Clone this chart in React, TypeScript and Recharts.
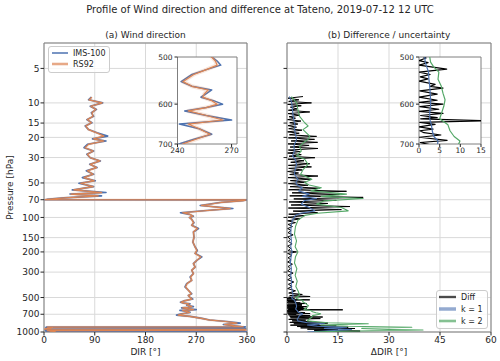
import React from 'react';
import { ScatterChart, Scatter, XAxis, YAxis, CartesianGrid, ReferenceArea } from 'recharts';

const FONT = '"DejaVu Sans", Verdana, sans-serif';
const INK = '#262626';
const SPINE = '#7f7f7f';
const GRID = '#d9d9d9';
const BLUE = '#4c72b0';
const ORANGE = '#dd8452';
const GREEN = '#55a868';
const BLACK = '#000000';

// (a) wind direction, shared pressure levels [hPa]
const dirP = [
  8.9, 9.4, 10.0, 10.7, 11.4, 12.2, 13.1, 14.0, 14.9, 15.9, 17.1, 18.2, 19.5, 20.6,
  21.5, 23.0, 24.6, 26.3, 28.1, 30.1, 32.1, 34.4, 36.7, 39.2, 42.0, 44.9, 47.9, 50.3,
  53.8, 57.5, 60.6, 62.5, 64.8, 67.5, 69.6, 70.0, 70.3, 71.5, 74, 78.6, 83.6, 87, 91, 94,
  97.4, 100, 104, 111, 117, 125, 134, 149, 164, 181, 194, 206, 221, 237, 253, 271, 289,
  309, 331, 354, 378, 404, 432, 463, 480,
  500, 508, 516, 525, 535, 550, 560, 568, 576, 584, 592, 600, 608, 616, 627, 638, 648,
  660, 674, 686, 698,
  712, 730, 760, 785, 810, 837, 860, 885,
  895, 900, 905, 912, 920, 928, 935, 942, 950, 958, 965, 972, 980, 988, 995, 1000,
];
const imsDir = [
  84, 79, 104, 82, 93, 84, 88, 76, 85, 73, 79, 94, 113, 86,
  110, 77, 71, 88, 76, 82, 100, 81, 94, 75, 88, 68, 91, 62,
  88, 50, 110, 46, 102, 35, 5, 1, 359, 352, 312, 277, 335, 288, 242, 258,
  265, 258, 262, 266, 262, 274, 265, 266, 264, 268, 272, 268, 280, 271, 265, 268, 262,
  265, 259, 262, 253, 250, 256, 262, 256,
  259, 262, 264, 256, 248, 242, 248, 259, 256, 253, 260, 265, 256, 244, 256, 270, 241,
  252, 259, 250, 242,
  235, 259, 280, 294, 324, 348, 318, 340,
  350, 357, 4, 9, 3, 357, 352, 358, 5, 2, 356, 353, 3, 8, 359, 300,
];
const rs92Dir = [
  85, 80, 103, 83, 92, 85, 87, 77, 84, 74, 79, 93, 106, 88,
  106, 79, 73, 87, 77, 82, 99, 82, 93, 77, 87, 71, 89, 65,
  87, 53, 102, 48, 96, 38, 7, 2, 358, 353, 314, 279, 330, 290, 246, 259,
  264, 258, 262, 265, 262, 272, 265, 266, 264, 268, 271, 268, 278, 271, 265, 268, 262,
  265, 260, 262, 254, 251, 256, 261, 256,
  259, 261, 262, 256, 249, 243, 248, 257, 255, 254, 259, 262, 256, 246, 256, 265, 246,
  252, 258, 251, 244,
  238, 258, 279, 292, 322, 342, 320, 338,
  348, 353, 6, 15, 8, 12, 4, 1, 357, 353, 358, 6, 18, 12, 20, 10,
];

// (b) absolute difference IMS-100 minus RS92 [deg]
const diffP = [
  8.8, 9.1, 9.4, 9.7, 10.0, 10.3, 10.6, 10.9, 11.3, 11.6,
  12.0, 12.4, 12.8, 13.2, 13.6, 14.0, 14.4, 14.9, 15.3, 15.8,
  16.3, 16.8, 17.3, 17.9, 18.4, 19.0, 19.6, 20.2, 20.8, 21.5,
  22.1, 22.8, 23.5, 24.3, 25.0, 25.8, 26.6, 27.4, 28.3, 29.2,
  30.1, 31.0, 32.0, 33.0, 34.0, 35.1, 36.2, 37.3, 38.5, 39.7,
  40.9, 42.2, 43.5, 44.9, 46.3, 47.7, 49.2, 50.7, 52.3, 53.9,
  55.6, 57.3, 59.1, 61.0, 62.9, 64.8, 66.8, 68.9, 71.0, 73.2,
  75.5, 77.9, 80.3, 82.8, 85.4, 88.0, 90.8, 93.6, 96.5, 99.5,
  103, 107, 111, 115, 120, 125, 130, 136, 142, 148,
  155, 162, 170, 178, 186, 195, 200, 206, 215, 225,
  235, 245, 256, 268, 280, 293, 306, 320, 335, 350,
  366, 383, 400, 418, 437, 457, 470, 480, 490, 497,
  502, 507, 511, 516, 524, 530, 535, 540, 544, 549,
  556, 560, 564, 570, 577, 584, 591, 596, 600, 606,
  612, 617, 622, 627, 632, 635, 640, 644, 649, 655,
  661, 665, 670, 676, 682, 690, 696, 702,
  710, 720, 730, 740, 752, 764, 776, 788, 800, 812,
  824, 836, 848, 860, 872, 884, 896, 908, 920, 932,
  944, 956, 968, 980, 990, 1000,
];
const diffVals = [
  4.7, 0.3, 3.5, 0.5, 7.2, 0.2, 4.2, 1.0, 3.0, 0.4,
  6.7, 0.3, 3.8, 0.6, 2.5, 0.2, 4.1, 0.8, 3.2, 0.3,
  2.8, 0.5, 4.4, 0.2, 3.6, 0.7, 8.7, 0.4, 8.1, 1.2,
  9.0, 0.3, 6.5, 0.9, 9.1, 0.4, 3.8, 0.2, 4.2, 0.6,
  8.2, 0.3, 5.0, 1.1, 6.7, 0.4, 7.2, 0.5, 4.5, 0.2,
  3.4, 0.8, 9.1, 0.3, 7.0, 1.0, 5.6, 0.4, 6.2, 0.9,
  9.6, 0.5, 17.5, 1.5, 15.5, 0.8, 22.4, 2.0, 14.5, 0.6,
  12.0, 1.2, 18.5, 0.4, 16.0, 1.8, 9.0, 0.5, 5.2, 0.3,
  3.8, 0.2, 2.5, 0.3, 1.6, 0.2, 1.2, 0.3, 1.8, 0.2,
  1.0, 0.4, 1.5, 0.2, 1.1, 0.3, 2.8, 0.2, 1.4, 0.3,
  1.2, 0.2, 1.6, 0.3, 1.0, 0.2, 1.8, 0.3, 1.3, 0.2,
  2.0, 0.4, 1.5, 0.2, 2.5, 0.5, 4.5, 0.8, 6.8, 0.5,
  1.7, 0, 2.2, 0, 6.7, 0, 2.7, 0.3, 2.2, 0,
  3.9, 2.7, 5.8, 0.2, 4.4, 0, 4.4, 0.1, 5.8, 0.2,
  4.8, 0, 5.8, 0.4, 4.4, 0.4, 16.4, 0.2, 3.9, 0,
  3.4, 0.2, 1.2, 5.3, 0.1, 6.8, 0.3, 2.7,
  0.5, 6.8, 0.8, 10.5, 1.0, 9.8, 0.5, 5.5, 1.5, 7.5,
  0.8, 12.0, 2.0, 9.5, 1.0, 14.5, 3.0, 18.0, 4.0, 20.0,
  6.0, 15.0, 8.0, 21.5, 9.0, 12.0,
];

// (b) combined uncertainty, k = 1 and k = 2 [deg]
const uncP = [
  8.8, 10, 11.4, 13.1, 14.9, 15.9, 17.1, 19.5, 20.8, 22.3,
  24, 26.3, 29, 31, 34.4, 38, 42, 46.5, 49.6, 52,
  55, 58.6, 62.6, 65.5, 68.4, 71.6, 76.5, 81.9, 87.6, 92,
  96, 106, 120, 140, 160, 180, 200, 220, 250, 280,
  320, 360, 400, 440, 480, 500, 510, 520, 530, 545,
  560, 575, 590, 605, 620, 635, 650, 665, 680, 692,
  700, 720, 744, 770, 800, 830, 848, 870, 890, 908,
  930, 950, 962, 975, 990, 1000,
];
const k1Vals = [
  0.7, 1.4, 1.6, 1.8, 2.2, 2.4, 2.2, 2.6, 2.8, 2.4,
  2.0, 2.2, 1.6, 2.4, 2.8, 2.4, 2.2, 3.2, 2.6, 3.0,
  4.5, 3.4, 6.5, 4.5, 8.7, 5.0, 4.2, 6.5, 8.2, 4.0,
  2.5, 1.6, 1.2, 1.1, 1.3, 1.1, 1.5, 1.2, 1.0, 1.3,
  1.1, 1.4, 1.2, 1.6, 1.8, 1.4, 1.5, 1.9, 2.3, 2.4,
  2.6, 2.7, 2.8, 2.8, 2.6, 2.6, 3.0, 3.2, 3.6, 4.6,
  4.5, 3.6, 3.4, 3.0, 3.2, 6, 11, 6, 9, 17.5,
  11, 19, 17.5, 12, 8.7, 6,
];
const k2Vals = [
  1.3, 2.8, 3.2, 3.7, 5.2, 6.2, 4.7, 6.7, 6.2, 4.8,
  3.7, 4.2, 2.8, 5.2, 6.2, 4.8, 4.0, 7.3, 5.2, 6.5,
  10.1, 7.0, 17.5, 10, 22.4, 11, 8.7, 16, 18, 9,
  5.2, 3.2, 2.5, 2.2, 2.8, 2.4, 3.2, 2.5, 2.2, 2.9,
  2.4, 3.0, 2.6, 3.3, 3.7, 2.6, 2.8, 3.6, 4.8, 4.6,
  5.4, 5.8, 6.3, 6.0, 5.5, 5.0, 7.0, 7.5, 8.5, 9.9,
  9.6, 7.5, 7.3, 6.5, 6.0, 12, 23.9, 10, 18, 36.7,
  22, 30, 40, 25, 12, 8,
];

const pTicks = [5, 10, 15, 20, 30, 50, 70, 100, 150, 200, 300, 500, 700, 1000];
const dirTicks = [0, 90, 180, 270, 360];
const dDirTicks = [0, 15, 30, 45, 60];
const insetPTicks = [500, 600, 700];
const insetDirTicks = [240, 270];
const insetDDirTicks = [0, 5, 10, 15];

const legendA = ['IMS-100', 'RS92'];
const legendB = ['Diff', 'k = 1', 'k = 2'];

type Row = { p: number; v: number };
const rows = (p: number[], v: number[]): Row[] => p.map((pp, i) => ({ p: pp, v: v[i] }));

// keep the points inside [lo, hi] plus one neighbour on each side
const around = (data: Row[], lo: number, hi: number) => {
  let first = data.findIndex((d) => d.p >= lo);
  first = Math.max(0, first - 1);
  let last = data.length - 1;
  for (let i = 0; i < data.length; i++) {
    if (data[i].p > hi) {
      last = i;
      break;
    }
  }
  return data.slice(first, last + 1);
};

const noDot = () => <g />;

const trace = (data: Row[], color: string, width: number, opacity = 1) => (
  <Scatter
    data={data}
    fill={color}
    line={{ stroke: color, strokeWidth: width, strokeOpacity: opacity, strokeLinejoin: 'round' }}
    lineType="joint"
    shape={noDot}
    legendType="none"
    isAnimationActive={false}
  />
);

const tick9 = { fontSize: 9, fill: INK, fontFamily: FONT };
const tick7 = { fontSize: 7.5, fill: INK, fontFamily: FONT };

export default function App() {
  const ims = rows(dirP, imsDir);
  const rs = rows(dirP, rs92Dir);
  const diff = rows(diffP, diffVals);
  const k1 = rows(uncP, k1Vals);
  const k2 = rows(uncP, k2Vals);

  const xMain = {
    type: 'number' as const,
    dataKey: 'v',
    interval: 0 as const,
    allowDataOverflow: true,
    tick: tick9,
    tickSize: 3.5,
    tickMargin: 1,
    axisLine: false,
    tickLine: { stroke: INK },
    height: 20,
  };
  const yMain = {
    type: 'number' as const,
    dataKey: 'p',
    scale: 'log' as const,
    domain: [3, 1000],
    reversed: true,
    ticks: pTicks,
    interval: 0 as const,
    allowDataOverflow: true,
    tickSize: 3.5,
    axisLine: false,
    tickLine: { stroke: INK },
  };
  const xInset = {
    type: 'number' as const,
    dataKey: 'v',
    interval: 0 as const,
    allowDataOverflow: true,
    tick: tick7,
    tickSize: 3,
    tickMargin: 1,
    axisLine: false,
    tickLine: { stroke: INK },
    height: 12,
  };
  const yInset = {
    type: 'number' as const,
    dataKey: 'p',
    scale: 'log' as const,
    domain: [500, 700],
    reversed: true,
    ticks: insetPTicks,
    interval: 0 as const,
    allowDataOverflow: true,
    tick: tick7,
    tickSize: 3,
    tickMargin: 2,
    axisLine: false,
    tickLine: { stroke: INK },
    width: 30,
  };

  return (
    <div
      style={{
        position: 'absolute',
        left: 0,
        top: 0,
        width: 500,
        height: 361,
        background: '#fff',
        overflow: 'hidden',
        fontFamily: FONT,
      }}
    >
      {/* (a) wind direction */}
      <div style={{ position: 'absolute', left: 0, top: 0 }}>
        <ScatterChart width={260} height={361} margin={{ top: 43, right: 13, bottom: 9, left: 4 }}>
          <CartesianGrid stroke={GRID} />
          <XAxis {...xMain} domain={[0, 360]} ticks={dirTicks} />
          <YAxis {...yMain} width={40} tick={tick9} tickMargin={1} />
          {trace(ims, BLUE, 1.6)}
          {trace(rs, ORANGE, 2.6, 0.2)}
          {trace(rs, ORANGE, 1.2)}
          <ReferenceArea x1={0} x2={360} y1={3} y2={1000} fill="none" stroke={SPINE} ifOverflow="visible" />
        </ScatterChart>
      </div>

      {/* (b) difference / uncertainty */}
      <div style={{ position: 'absolute', left: 250, top: 0 }}>
        <ScatterChart width={250} height={361} margin={{ top: 43, right: 9, bottom: 9, left: 27 }}>
          <CartesianGrid stroke={GRID} />
          <XAxis {...xMain} domain={[0, 60]} ticks={dDirTicks} />
          <YAxis {...yMain} width={10} tick={tick9} tickFormatter={() => ''} />
          {trace(diff, BLACK, 1)}
          {trace(k1, BLUE, 1.1)}
          {trace(k2, GREEN, 1.1)}
          <ReferenceArea x1={0} x2={60} y1={3} y2={1000} fill="none" stroke={SPINE} ifOverflow="visible" />
        </ScatterChart>
      </div>

      {/* inset (a) */}
      <div style={{ position: 'absolute', left: 140, top: 50 }}>
        <ScatterChart width={105} height={110} margin={{ top: 7, right: 8, bottom: 4, left: 7.5 }}>
          <CartesianGrid fill="#fff" horizontal={false} vertical={false} />
          <XAxis {...xInset} domain={[240, 273]} ticks={insetDirTicks} />
          <YAxis {...yInset} />
          {trace(around(ims, 500, 700), BLUE, 1.5)}
          {trace(around(rs, 500, 700), ORANGE, 4, 0.2)}
          {trace(around(rs, 500, 700), ORANGE, 1.2)}
          <ReferenceArea x1={240} x2={273} y1={500} y2={700} fill="none" stroke={SPINE} ifOverflow="visible" />
        </ScatterChart>
      </div>

      {/* inset (b) */}
      <div style={{ position: 'absolute', left: 380, top: 50 }}>
        <ScatterChart width={115} height={110} margin={{ top: 7, right: 14, bottom: 4, left: 9 }}>
          <CartesianGrid fill="#fff" horizontal={false} vertical={false} />
          <XAxis {...xInset} domain={[0, 15]} ticks={insetDDirTicks} />
          <YAxis {...yInset} />
          {trace(around(diff, 500, 700), BLACK, 1.2)}
          {trace(around(k1, 500, 700), BLUE, 1.2)}
          {trace(around(k2, 500, 700), GREEN, 1.2)}
          <ReferenceArea x1={0} x2={15} y1={500} y2={700} fill="none" stroke={SPINE} ifOverflow="visible" />
        </ScatterChart>
      </div>

      {/* titles, axis labels, legends */}
      <svg
        width={500}
        height={361}
        style={{ position: 'absolute', left: 0, top: 0, pointerEvents: 'none' }}
        fontFamily={FONT}
        fill={INK}
      >
        <text x={260} y={12.8} fontSize={10} textAnchor="middle">
          Profile of Wind direction and difference at Tateno, 2019-07-12 12 UTC
        </text>
        <text x={145.5} y={38.3} fontSize={9} textAnchor="middle">(a) Wind direction</text>
        <text x={389} y={38.3} fontSize={9} textAnchor="middle">(b) Difference / uncertainty</text>
        <text x={145.5} y={354.5} fontSize={9} textAnchor="middle">DIR [°]</text>
        <text x={389} y={354.5} fontSize={9} textAnchor="middle">ΔDIR [°]</text>
        <text x={12.5} y={187.5} fontSize={9} textAnchor="middle" transform="rotate(-90 12.5 187.5)">
          Pressure [hPa]
        </text>

        <g transform="translate(48 46)">
          <rect x={0.5} y={0.5} width={61} height={26} rx={2.5} fill="#fff" fillOpacity={0.8} stroke="#cccccc" />
          <line x1={4} x2={20} y1={7} y2={7} stroke={BLUE} strokeWidth={1.5} />
          <line x1={4} x2={20} y1={18} y2={18} stroke={ORANGE} strokeWidth={3.5} strokeOpacity={0.25} />
          <line x1={4} x2={20} y1={18} y2={18} stroke={ORANGE} strokeWidth={1.2} />
          <text x={25} y={10} fontSize={8}>{legendA[0]}</text>
          <text x={25} y={21} fontSize={8}>{legendA[1]}</text>
        </g>

        <g transform="translate(436 290)">
          <rect x={0.5} y={0.5} width={51} height={38} rx={2.5} fill="#fff" fillOpacity={0.8} stroke="#cccccc" />
          <line x1={3} x2={20} y1={7} y2={7} stroke={BLACK} strokeWidth={3} strokeOpacity={0.25} />
          <line x1={3} x2={20} y1={7} y2={7} stroke={BLACK} strokeWidth={1.2} />
          <line x1={3} x2={20} y1={19} y2={19} stroke={BLUE} strokeWidth={3.5} strokeOpacity={0.6} />
          <line x1={3} x2={20} y1={31} y2={31} stroke={GREEN} strokeWidth={3.5} strokeOpacity={0.3} />
          <line x1={3} x2={20} y1={31} y2={31} stroke={GREEN} strokeWidth={1.2} />
          <text x={25} y={10} fontSize={8}>{legendB[0]}</text>
          <text x={25} y={22} fontSize={8}>{legendB[1]}</text>
          <text x={25} y={34} fontSize={8}>{legendB[2]}</text>
        </g>
      </svg>
    </div>
  );
}
